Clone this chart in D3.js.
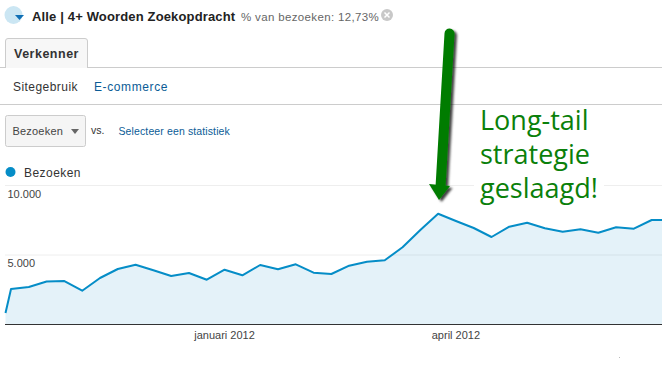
<!DOCTYPE html>
<html><head><meta charset="utf-8">
<script src="https://cdn.jsdelivr.net/npm/d3@7"></script>
<style>html,body{margin:0;padding:0;background:#fff}svg{display:block}text{font-family:"Liberation Sans",Arial,sans-serif}</style>
</head><body><svg id="c" width="666" height="378"></svg>
<script>
const weeks=[0.69,1,2,3,4,5,6,7,8,9,10,11,12,13,14,15,16,17,18,19,20,21,22,23,24,25,26,27,28,29,30,31,32,33,34,35,36,37,37.58];
const visits=[827,2554,2698,3094,3129,2432,3345,3993,4302,3899,3489,3705,3223,3942,3540,4281,3971,4331,3727,3633,4230,4518,4619,5554,6799,7971,7446,6942,6295,7036,7324,6921,6676,6849,6604,6993,6892,7518,7518];
const yTicks=[5000,10000];
const yTickLabels=["5.000","10.000"];
const xTicks=[13,26];
const xTickLabels=["januari 2012","april 2012"];
const annotationLines=["Long-tail","strategie","geslaagd!"];

const svg=d3.select("#c");
const R=662;
const x=d3.scaleLinear().domain([0.69,37.58]).range([5.5,R]);
const y=d3.scaleLinear().domain([0,10000]).range([324.5,185.5]);

const T=(px,py,s,o={})=>svg.append("text").attr("x",px).attr("y",py).text(s)
  .attr("font-size",o.size||12).attr("fill",o.fill||"#333").attr("font-weight",o.weight||"normal")
  .attr("letter-spacing",o.ls||0).attr("text-anchor",o.anchor||"start");
svg.append("circle").attr("cx",13.5).attr("cy",15).attr("r",9).attr("fill","#cbe6f3");
svg.append("path").attr("d","M15 15L24 15L19.5 20Z").attr("fill","#0f6fb5");
T(32,21,"Alle | 4+ Woorden Zoekopdracht",{size:13,weight:"bold",fill:"#222",ls:0.15});
T(241,21,"% van bezoeken: 12,73%",{size:11.5,fill:"#666",ls:0.35});
svg.append("circle").attr("cx",387).attr("cy",15).attr("r",6).attr("fill","#c8c8c8");
svg.append("path").attr("d","M384.5 12.5L389.5 17.5M389.5 12.5L384.5 17.5").attr("stroke","#fff").attr("stroke-width",1.5);

svg.append("line").attr("x1",0).attr("x2",R).attr("y1",67.5).attr("y2",67.5).attr("stroke","#ccc");
svg.append("line").attr("x1",0).attr("x2",R).attr("y1",104.5).attr("y2",104.5).attr("stroke","#ccc");
svg.append("path").attr("d","M5.5 68V41Q5.5 38.5 8 38.5H85Q87.5 38.5 87.5 41V68").attr("fill","#f7f7f7").attr("stroke","#ccc");
T(14,58,"Verkenner",{size:12.5,weight:"bold",fill:"#333",ls:0.5});
T(13,91,"Sitegebruik",{size:12,fill:"#333",ls:0.45});
T(94,91,"E-commerce",{size:12,fill:"#0b5c96",ls:0.6});
svg.append("rect").attr("x",5.5).attr("y",115.5).attr("width",80).attr("height",31).attr("rx",2).attr("fill","#f5f5f5").attr("stroke","#ccc");
T(12.5,135,"Bezoeken",{size:11,fill:"#444",ls:0.2});
svg.append("path").attr("d","M71 129L79 129L75 134Z").attr("fill","#666");
T(91,134,"vs.",{size:10.5,fill:"#333"});
T(118.5,135,"Selecteer een statistiek",{size:10.5,fill:"#0b5c96",ls:0.12});
svg.append("circle").attr("cx",10.5).attr("cy",172).attr("r",5).attr("fill","#058dc7");
T(24,177,"Bezoeken",{size:12,fill:"#333",ls:0.45});

svg.append("g").selectAll("line").data(yTicks).join("line")
  .attr("x1",5).attr("x2",R).attr("y1",d=>y(d)).attr("y2",d=>y(d)).attr("stroke","#eeeeee");

svg.append("path").datum(visits).attr("fill","#058dc7").attr("fill-opacity",0.11)
  .attr("d",d3.area().x((d,i)=>x(weeks[i])).y0(y(0)).y1(d=>y(d)));
svg.append("path").datum(visits).attr("fill","none").attr("stroke","#058dc7").attr("stroke-width",2)
  .attr("stroke-linejoin","round").attr("d",d3.line().x((d,i)=>x(weeks[i])).y(d=>y(d)));
svg.append("line").attr("x1",5).attr("x2",R).attr("y1",324.5).attr("y2",324.5).attr("stroke","#333");

yTicks.forEach((t,i)=>T(7.5,y(t)+12,yTickLabels[i],{size:11,fill:"#444"}));
xTicks.forEach((t,i)=>T(x(t),339,xTickLabels[i],{size:11,fill:"#444",anchor:"middle"}));

svg.append("rect").attr("x",474).attr("y",180).attr("width",130).attr("height",12).attr("fill","#fff");
const defs=svg.append("defs");
const f=defs.append("filter").attr("id","sh").attr("x","-50%").attr("y","-10%").attr("width","200%").attr("height","120%");
f.append("feDropShadow").attr("dx",2.5).attr("dy",2).attr("stdDeviation",1.2).attr("flood-color","#000").attr("flood-opacity",0.75);
const a=svg.append("g").attr("filter","url(#sh)");
a.append("path").attr("d","M449.5 33.5L440.5 187").attr("stroke","#047c04").attr("stroke-width",10).attr("stroke-linecap","round").attr("fill","none");
a.append("path").attr("d","M429 184L450 186L439 200Z").attr("fill","#047c04");
annotationLines.forEach((s,i)=>T(480,130+i*34,s,{size:27,fill:"#0a800a"}).style("font-family","'Open Sans',sans-serif"));
svg.append("rect").attr("x",619).attr("y",357).attr("width",1).attr("height",1).attr("fill","#bbb");
</script></body></html>
